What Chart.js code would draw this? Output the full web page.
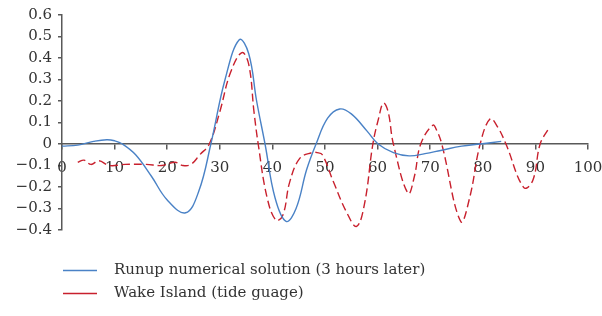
<!DOCTYPE html>
<html lang="en">
  <head>
    <meta charset="UTF-8" />
    <title>Runup vs Wake Island</title>
    <script src="https://cdn.jsdelivr.net/npm/chart.js"></script>
    <style>
      body {
        margin: 0;
        background: #ffffff;
      }
      .wrap {
        width: 602px;
        height: 316px;
      }
    </style>
  </head>
  <body>
    <div class="wrap"><canvas id="chart"></canvas></div>

    <script>
      // runup numerical solution (3 hours later)
      const runupX = [0, 3, 6, 8.5, 10, 11.5, 14, 17, 20, 23.5, 26, 28.3, 31, 33.7, 35.5, 37, 38.6, 40.5, 42.6, 44.5, 46.5, 48.3, 50.5, 52.8, 55, 58, 60.1, 63, 66, 69, 72, 76, 79.5, 83.5]
      const runupY = [-0.01, -0.005, 0.012, 0.02, 0.015, 0, -0.05, -0.15, -0.26, -0.32, -0.22, 0, 0.3, 0.485, 0.42, 0.2, 0, -0.25, -0.36, -0.3, -0.12, 0, 0.12, 0.163, 0.14, 0.06, 0, -0.04, -0.055, -0.045, -0.03, -0.01, 0, 0.012]

      // Wake Island tide guage
      const wakeX = [3, 4.2, 5.5, 7, 9, 12, 16, 19, 21.5, 23, 24.5, 26.2, 28, 30, 32, 34.2, 35.5, 36.5, 37.3, 39, 40.7, 42, 43.3, 45.2, 47.5, 48.5, 49.5, 51.6, 54.1, 56, 57.5, 59.1, 60.2, 61.1, 62, 63, 65.8, 67, 68.2, 70.5, 71.3, 72.2, 75.8, 77.5, 79.5, 81.4, 82.8, 84.4, 87.8, 89.5, 90.9, 92.5]
      const wakeY = [-0.085, -0.075, -0.095, -0.078, -0.1, -0.095, -0.095, -0.1, -0.085, -0.1, -0.095, -0.05, 0, 0.15, 0.33, 0.425, 0.37, 0.15, 0, -0.25, -0.355, -0.33, -0.176, -0.067, -0.04, -0.04, -0.05, -0.176, -0.317, -0.383, -0.28, 0, 0.12, 0.19, 0.15, 0, -0.23, -0.15, 0, 0.087, 0.06, 0, -0.36, -0.25, 0, 0.117, 0.08, 0, -0.203, -0.17, 0, 0.071]

      const xTicks = [0, 10, 20, 30, 40, 50, 60, 70, 80, 90, 100]

      const toPoints = (xs, ys) => xs.map((x, i) => ({ x: x, y: ys[i] }))

      const font = { family: 'DejaVu Serif', size: 15 }
      const textColor = '#333333'
      const axisColor = '#595959'

      // legend sits under the plot, lined up with the y axis
      const legendShift = {
        id: 'legendShift',
        afterLayout(chart) {
          chart.legend.left += 55
          chart.legend.right += 55
        },
      }

      new Chart(document.getElementById('chart'), {
        type: 'line',
        data: {
          datasets: [
            {
              label: 'Runup numerical solution (3 hours later)',
              data: toPoints(runupX, runupY),
              borderColor: '#4a82c6',
              borderWidth: 1.4,
              pointRadius: 0,
              tension: 0.4,
              fill: false,
            },
            {
              label: 'Wake Island (tide guage)',
              data: toPoints(wakeX, wakeY),
              borderColor: '#c8202d',
              borderWidth: 1.4,
              borderDash: [8, 4],
              pointRadius: 0,
              tension: 0.4,
              fill: false,
            },
          ],
        },
        options: {
          responsive: true,
          maintainAspectRatio: false,
          animation: false,
          layout: { padding: { top: 8, right: 0, bottom: 5, left: 0 } },
          plugins: {
            tooltip: { enabled: false },
            legend: {
              position: 'bottom',
              align: 'start',
              title: { display: true, text: ' ', font: { size: 10 }, padding: { top: 13, bottom: 0 } },
              labels: {
                font: font,
                color: textColor,
                usePointStyle: true,
                pointStyle: 'line',
                pointStyleWidth: 34,
                padding: 8,
                generateLabels: (chart) => {
                  const items = Chart.defaults.plugins.legend.labels.generateLabels(chart)
                  items.forEach((it) => (it.text = '  ' + it.text))
                  return items
                },
              },
            },
          },
          scales: {
            x: {
              type: 'linear',
              min: 0,
              max: 100,
              position: { y: 0 },
              afterBuildTicks: (axis) => {
                axis.ticks = xTicks.map((v) => ({ value: v }))
              },
              afterFit: (axis) => {
                axis.paddingRight = 14
              },
              border: { display: true, color: axisColor, width: 1.5 },
              grid: { drawOnChartArea: false, drawTicks: true, tickLength: 5, color: axisColor, lineWidth: 1.5 },
              ticks: { font: font, color: textColor, padding: 10, maxRotation: 0 },
            },
            y: {
              min: -0.4,
              max: 0.6,
              afterFit: (axis) => {
                axis.width = 62
              },
              border: { display: true, color: axisColor, width: 1.5 },
              grid: { drawOnChartArea: false, drawTicks: true, tickLength: 4, color: axisColor, lineWidth: 1.5 },
              ticks: {
                stepSize: 0.1,
                font: font,
                color: textColor,
                padding: 6,
                callback: (v) => {
                  const r = Math.round(v * 10) / 10
                  return r === 0 ? '0' : String(r).replace('-', '\u2212')
                },
              },
            },
          },
        },
        plugins: [legendShift],
      })
    </script>
  </body>
</html>
